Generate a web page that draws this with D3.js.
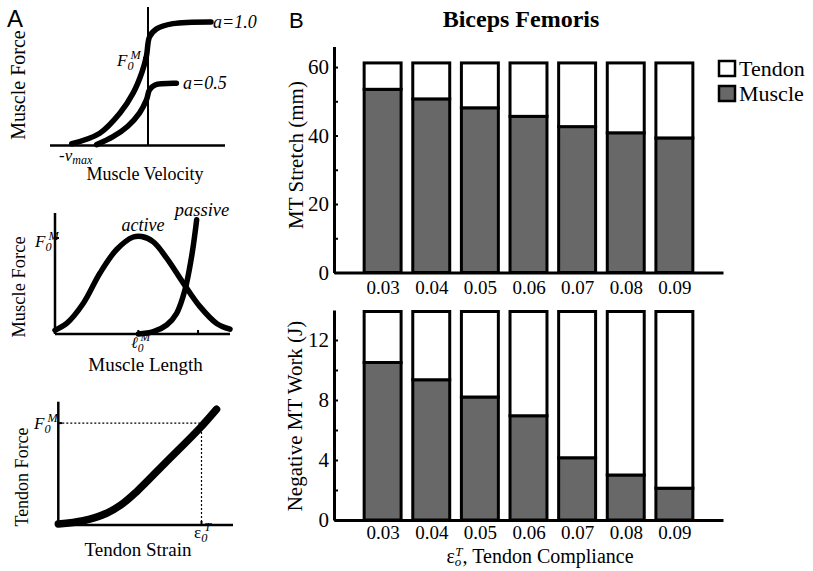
<!DOCTYPE html>
<html>
<head>
<meta charset="utf-8">
<script src="https://cdn.jsdelivr.net/npm/d3@7"></script>
<style>
  body { margin: 0; background: #fff; }
  text { font-family: "Liberation Serif", "Times New Roman", serif; fill: #000; }
</style>
</head>
<body>
<script>
/* global d3 */

const width = 813
const height = 571

// ---- panel B data ----
const compliance = [0.03, 0.04, 0.05, 0.06, 0.07, 0.08, 0.09]
const stretchMuscle = [53.5, 50.7, 48.1, 45.6, 42.6, 40.8, 39.3]
const stretchTotal = [61.2, 61.2, 61.2, 61.2, 61.2, 61.2, 61.2]
const workMuscle = [10.5, 9.35, 8.2, 6.95, 4.15, 3.0, 2.12]
const workTotal = [13.9, 13.9, 13.9, 13.9, 13.9, 13.9, 13.9]
const stretchTicks = [0, 20, 40, 60]
const stretchMinor = [10, 30, 50]
const workTicks = [0, 4, 8, 12]
const workMinor = [2, 6, 10]

// ---- panel A curves (normalised units) ----
// force-velocity, [velocity / vmax, force / F0M]
const fvFull = [[-0.98, 0.02], [-0.62, 0.14], [-0.36, 0.37], [-0.19, 0.60], [-0.08, 0.83],
  [-0.02, 1.02], [0.02, 1.24], [0.11, 1.33], [0.32, 1.39], [0.81, 1.41]]
const fvHalf = [[-0.66, 0.01], [-0.45, 0.10], [-0.26, 0.22], [-0.11, 0.37], [-0.02, 0.52],
  [0.02, 0.635], [0.09, 0.69], [0.365, 0.71]]
// force-length, [length / l0M, force / F0M]
const flActive = [[0.40, 0.04], [0.484, 0.11], [0.604, 0.32], [0.724, 0.635], [0.844, 0.88],
  [0.964, 1.01], [1.024, 1.015], [1.108, 0.96], [1.204, 0.79], [1.324, 0.53],
  [1.444, 0.285], [1.564, 0.11], [1.66, 0.05]]
const flPassive = [[1.0, 0.0], [1.108, 0.024], [1.204, 0.094], [1.276, 0.216], [1.336, 0.46],
  [1.384, 0.81], [1.408, 1.05], [1.42, 1.19]]
// tendon force-strain, [strain / e0T, force / F0M]
const tendonCurve = [[0, 0.01], [0.174, 0.042], [0.337, 0.115], [0.453, 0.213], [0.547, 0.327],
  [0.756, 0.622], [0.988, 0.95], [1.105, 1.136]]
const lengthTicks = [1.0, 1.43]

const svg = d3.select('body').append('svg')
  .attr('width', width)
  .attr('height', height)

svg.append('rect').attr('width', width).attr('height', height).attr('fill', '#fff')

const line = d3.line().curve(d3.curveCatmullRom.alpha(0.5))

function hline (g, x0, x1, y, w) {
  g.append('line').attr('x1', x0).attr('x2', x1).attr('y1', y).attr('y2', y)
    .attr('stroke', '#000').attr('stroke-width', w)
}
function vline (g, x, y0, y1, w) {
  g.append('line').attr('x1', x).attr('x2', x).attr('y1', y0).attr('y2', y1)
    .attr('stroke', '#000').attr('stroke-width', w)
}
function curve (g, pts, sx, sy, w) {
  g.append('path')
    .attr('d', line(pts.map(d => [sx(d[0]), sy(d[1])])))
    .attr('fill', 'none').attr('stroke', '#000').attr('stroke-width', w)
    .attr('stroke-linecap', 'round').attr('stroke-linejoin', 'round')
}
function vlabel (g, txt, x, y, size) {
  g.append('text').attr('transform', `translate(${x},${y}) rotate(-90)`)
    .attr('text-anchor', 'middle').attr('font-size', size).text(txt)
}
// F0M style label: main letter, subscript, superscript
function subsup (g, x, y, main, sub, sup, size, italicMain) {
  const t = g.append('text').attr('x', x).attr('y', y).attr('font-size', size)
  t.append('tspan').attr('font-style', italicMain ? 'italic' : null).text(main)
  t.append('tspan').attr('font-size', size * 0.72).attr('font-style', 'italic').attr('dy', 4).text(sub)
  t.append('tspan').attr('font-size', size * 0.72).attr('font-style', 'italic')
    .attr('dx', -3).attr('dy', -11).text(sup)
  return t
}

// ---------------- Panel A ----------------
const pa = svg.append('g')
pa.append('text').attr('x', 7).attr('y', 27).attr('font-size', 24)
  .style('font-family', '"Liberation Sans", Arial, sans-serif').text('A')

// A1: force-velocity
{
  const x = d3.scaleLinear().domain([-1.26, 0.99]).range([50, 225])
  const y = d3.scaleLinear().domain([0, 1.58]).range([145.5, 7])
  hline(pa, x(-1.26), x(0.99), y(0), 2.5)
  vline(pa, x(0), y(0), y(1.58), 2)
  hline(pa, x(0) - 5, x(0), y(1), 2)
  curve(pa, fvFull, x, y, 5.5)
  curve(pa, fvHalf, x, y, 5.5)
  pa.append('text').attr('x', 213).attr('y', 28).attr('font-size', 18)
    .attr('font-style', 'italic').text('a=1.0')
  pa.append('text').attr('x', 183).attr('y', 89).attr('font-size', 18)
    .attr('font-style', 'italic').text('a=0.5')
  subsup(pa, 117, 66, 'F', '0', 'M', 17, true)
  const v = pa.append('text').attr('x', 59).attr('y', 161).attr('font-size', 17).attr('font-style', 'italic')
  v.append('tspan').text('-v')
  v.append('tspan').attr('font-size', 12).attr('dy', 3).text('max')
  pa.append('text').attr('x', 145).attr('y', 180).attr('text-anchor', 'middle')
    .attr('font-size', 18).text('Muscle Velocity')
  vlabel(pa, 'Muscle Force', 25, 85, 20)
}

// A2: force-length
{
  const x = d3.scaleLinear().domain([0.4, 1.66]).range([55, 230])
  const y = d3.scaleLinear().domain([0, 1.26]).range([334, 213])
  vline(pa, x(0.4), y(0), y(1.26), 2.5)
  hline(pa, x(0.4), x(1.66), y(0), 2.5)
  lengthTicks.forEach(t => vline(pa, x(t), y(0), y(0) - 4, 2))
  hline(pa, x(0.4), x(0.4) + 4, y(1), 2)
  curve(pa, flActive, x, y, 5.5)
  curve(pa, flPassive, x, y, 5.5)
  pa.append('text').attr('x', 143).attr('y', 231).attr('text-anchor', 'middle')
    .attr('font-size', 18).attr('font-style', 'italic').text('active')
  pa.append('text').attr('x', 202).attr('y', 216).attr('text-anchor', 'middle')
    .attr('font-size', 18.5).attr('font-style', 'italic').text('passive')
  subsup(pa, 35, 247, 'F', '0', 'M', 17, true)
  subsup(pa, 131, 348, 'ℓ', '0', 'M', 16, true)
  pa.append('text').attr('x', 145.5).attr('y', 371).attr('text-anchor', 'middle')
    .attr('font-size', 19).text('Muscle Length')
  vlabel(pa, 'Muscle Force', 25, 287, 18.5)
}

// A3: tendon force-strain
{
  const x = d3.scaleLinear().domain([0, 1.22]).range([58.3, 233])
  const y = d3.scaleLinear().domain([0, 1.21]).range([525, 401.7])
  pa.append('path')
    .attr('d', `M${x(0)},${y(1)}H${x(1)}V${y(0)}`)
    .attr('fill', 'none').attr('stroke', '#000').attr('stroke-width', 1.2)
    .attr('stroke-dasharray', '2,2')
  vline(pa, x(0), y(0), y(1.21), 2.5)
  hline(pa, x(0), x(1.22), y(0), 2.5)
  hline(pa, x(0), x(0) + 4, y(1), 2)
  vline(pa, x(1), y(0), y(0) - 4, 2)
  curve(pa, tendonCurve, x, y, 7.5)
  subsup(pa, 34, 429, 'F', '0', 'M', 17, true)
  subsup(pa, 194, 538, 'ε', '0', 'T', 17, false)
  pa.append('text').attr('x', 138).attr('y', 556).attr('text-anchor', 'middle')
    .attr('font-size', 19).text('Tendon Strain')
  vlabel(pa, 'Tendon Force', 28, 477, 18)
}

// ---------------- Panel B ----------------
const pb = svg.append('g')
pb.append('text').attr('x', 289).attr('y', 28).attr('font-size', 22)
  .style('font-family', '"Liberation Sans", Arial, sans-serif').text('B')
pb.append('text').attr('x', 521).attr('y', 27).attr('text-anchor', 'middle')
  .attr('font-size', 24).attr('font-weight', 'bold').text('Biceps Femoris')

const x = d3.scaleLinear().domain([0.02, 0.10]).range([334, 723])
const barW = 0.0076
const muscleFill = '#686868'
const stack = d3.stack().keys(['muscle', 'tendon'])

function barPanel (muscle, total, yMax, ticks, minor, top, bottom, label, labelX, labelY, pad) {
  const y = d3.scaleLinear().domain([0, yMax]).range([bottom, top])
  const rows = compliance.map((c, i) => ({ c, muscle: muscle[i], tendon: total[i] - muscle[i] }))
  const series = stack(rows)

  pb.append('g').selectAll('g')
    .data(series)
    .join('g')
    .attr('fill', s => s.key === 'muscle' ? muscleFill : '#fff')
    .selectAll('rect')
    .data(s => s)
    .join('rect')
    .attr('x', d => x(d.data.c - barW / 2))
    .attr('width', x(barW) - x(0))
    .attr('y', d => y(d[1]))
    .attr('height', d => y(d[0]) - y(d[1]))
    .attr('stroke', '#000')
    .attr('stroke-width', 3)

  const ax = pb.append('g').attr('transform', `translate(0,${bottom})`)
    .call(d3.axisBottom(x).tickValues(compliance).tickSize(0).tickSizeOuter(0)
      .tickPadding(pad).tickFormat(d3.format('.2f')))
  ax.attr('font-family', null).attr('font-size', 19)
  ax.select('.domain').attr('stroke-width', 3)

  const ay = pb.append('g').attr('transform', `translate(${x(0.02)},0)`)
    .call(d3.axisLeft(y).tickValues(ticks).tickSizeInner(-4).tickSizeOuter(0).tickPadding(5))
  ay.attr('font-family', null).attr('font-size', 21)
  ay.select('.domain').attr('stroke-width', 3)
  ay.selectAll('.tick line').attr('stroke-width', 2)

  const am = pb.append('g').attr('transform', `translate(${x(0.02)},0)`)
    .call(d3.axisLeft(y).tickValues(minor).tickSizeInner(-4).tickSizeOuter(0).tickFormat(''))
  am.select('.domain').remove()
  am.selectAll('.tick line').attr('stroke-width', 2)

  vlabel(pb, label, labelX, labelY, 21)
}

barPanel(stretchMuscle, stretchTotal, 66, stretchTicks, stretchMinor, 46.5, 272.5,
  'MT Stretch (mm)', 303, 155, 8)
barPanel(workMuscle, workTotal, 14, workTicks, workMinor, 310, 520,
  'Negative MT Work (J)', 302, 416, 6)

// legend
const legend = pb.append('g')
const legendItems = [{ name: 'Tendon', fill: '#fff' }, { name: 'Muscle', fill: muscleFill }]
legendItems.forEach((d, i) => {
  legend.append('rect').attr('x', 719).attr('y', 61 + i * 25).attr('width', 16).attr('height', 15)
    .attr('fill', d.fill).attr('stroke', '#000').attr('stroke-width', 2.5)
  legend.append('text').attr('x', 739).attr('y', 76 + i * 25).attr('font-size', 22).text(d.name)
})

// x label for panel B
const xl = pb.append('text').attr('x', 540).attr('y', 563).attr('text-anchor', 'middle').attr('font-size', 20)
xl.append('tspan').text('ε')
xl.append('tspan').attr('font-size', 13).attr('font-style', 'italic').attr('dy', 3).text('o')
xl.append('tspan').attr('font-size', 13).attr('font-style', 'italic').attr('dx', -6).attr('dy', -10).text('T')
xl.append('tspan').attr('dy', 7).text(', Tendon Compliance')
</script>
</body>
</html>
